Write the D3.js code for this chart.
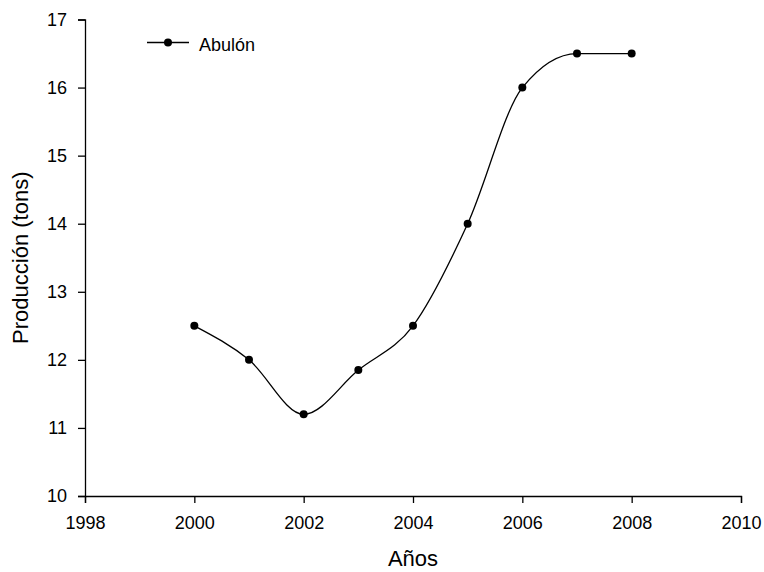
<!DOCTYPE html>
<html>
<head>
<meta charset="utf-8">
<script src="https://cdn.jsdelivr.net/npm/d3@7"></script>
<style>
  html, body { margin: 0; padding: 0; background: #fff; }
  svg { display: block; font-family: "Liberation Sans", Arial, sans-serif; }
</style>
</head>
<body>
<svg id="chart" width="764" height="572"></svg>
<script>
// Abalone production by year
const years = [2000, 2001, 2002, 2003, 2004, 2005, 2006, 2007, 2008];
const production = [12.5, 12.0, 11.2, 11.85, 12.5, 14.0, 16.0, 16.5, 16.5];
const xTicks = [1998, 2000, 2002, 2004, 2006, 2008, 2010];
const yTicks = [10, 11, 12, 13, 14, 15, 16, 17];
const seriesName = "Abulón";

const svg = d3.select("#chart");
const plotLeft = 85, plotRight = 741, plotTop = 19.5, plotBottom = 496;

const x = d3.scaleLinear().domain([1998, 2010]).range([plotLeft, plotRight]);
const y = d3.scaleLinear().domain([10, 17]).range([plotBottom, plotTop]);

const data = years.map((yr, i) => ({ yr, v: production[i] }));

// Axes
const xAxis = svg.append("g")
  .attr("transform", `translate(0,${plotBottom})`)
  .call(d3.axisBottom(x).tickValues(xTicks).tickFormat(d3.format("d")).tickSize(7).tickPadding(13));
const yAxis = svg.append("g")
  .attr("transform", `translate(${plotLeft},0)`)
  .call(d3.axisLeft(y).tickValues(yTicks).tickFormat(d3.format("d")).tickSize(7).tickPadding(11));

[xAxis, yAxis].forEach(g => {
  g.select(".domain").attr("stroke", "#000").attr("stroke-width", 1.3);
  g.selectAll(".tick line").attr("stroke", "#000").attr("stroke-width", 1.3);
  g.selectAll(".tick text").attr("fill", "#000").style("font-size", "18px")
    .style("font-family", '"Liberation Sans", Arial, sans-serif');
});

// Axis titles
svg.append("text")
  .attr("x", (plotLeft + plotRight) / 2).attr("y", 566)
  .attr("text-anchor", "middle")
  .style("font-size", "22px")
  .text("Años");
svg.append("text")
  .attr("transform", `translate(28,${(plotTop + plotBottom) / 2}) rotate(-90)`)
  .attr("text-anchor", "middle")
  .style("font-size", "22px")
  .text("Producción (tons)");

// Smoothed line
const line = d3.line()
  .x(d => x(d.yr)).y(d => y(d.v))
  .curve(d3.curveMonotoneX);
svg.append("path")
  .datum(data)
  .attr("fill", "none")
  .attr("stroke", "#000")
  .attr("stroke-width", 1.3)
  .attr("d", line);

// Markers
svg.selectAll("circle.pt")
  .data(data)
  .enter().append("circle")
  .attr("class", "pt")
  .attr("cx", d => x(d.yr)).attr("cy", d => y(d.v))
  .attr("r", 4).attr("fill", "#000");

// Legend
const lg = svg.append("g").attr("transform", "translate(147,42.5)");
lg.append("line").attr("x1", 0).attr("x2", 42).attr("y1", 0).attr("y2", 0)
  .attr("stroke", "#000").attr("stroke-width", 1.3);
lg.append("circle").attr("cx", 21).attr("cy", 0).attr("r", 4).attr("fill", "#000");
lg.append("text").attr("x", 52).attr("y", 8.5).style("font-size", "18px").text(seriesName);
</script>
</body>
</html>
